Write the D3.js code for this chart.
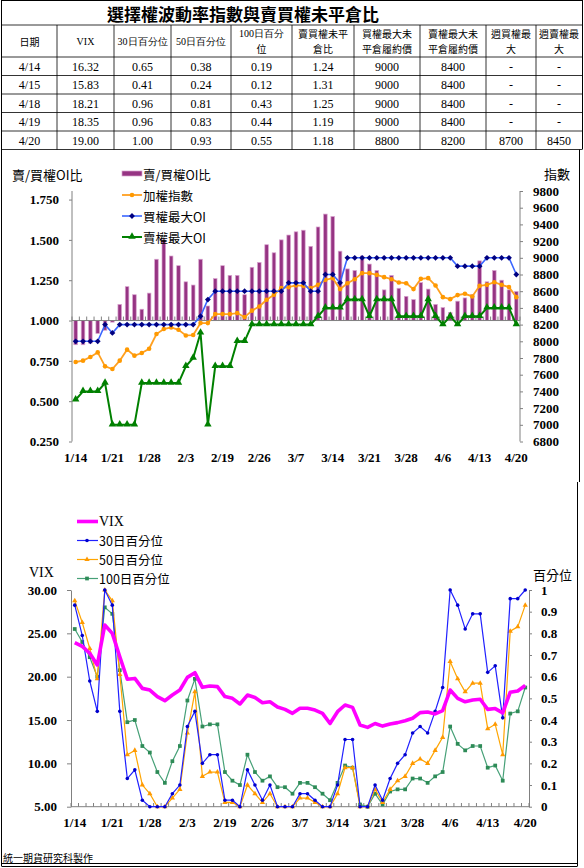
<!DOCTYPE html>
<html><head><meta charset="utf-8">
<script src="https://cdn.jsdelivr.net/npm/d3@7"></script>
<style>body{margin:0;background:#fff} svg{display:block}</style>
</head><body><svg id="c" width="584" height="868"></svg>
<script>
// ---------- DATA ----------
const dates = ["1/14","1/15","1/18","1/19","1/20","1/21","1/22","1/25","1/26","1/27","1/28","1/29","1/30","2/1","2/2","2/3","2/15","2/16","2/17","2/18","2/19","2/22","2/23","2/24","2/25","2/26","3/1","3/2","3/3","3/4","3/7","3/8","3/9","3/10","3/11","3/14","3/15","3/16","3/17","3/18","3/21","3/22","3/23","3/24","3/25","3/28","3/29","3/30","3/31","4/1","4/6","4/7","4/8","4/11","4/12","4/13","4/14","4/15","4/18","4/19","4/20"];
const putCallRatio = [0.85,0.85,0.86,0.92,0.94,0.99,1.10,1.21,1.16,1.07,1.17,1.38,1.50,1.40,1.34,1.24,1.22,1.38,1.09,1.26,1.34,1.28,1.28,1.16,1.33,1.36,1.47,1.42,1.50,1.53,1.55,1.56,1.46,1.58,1.66,1.645,1.43,1.32,1.31,1.40,1.35,1.31,1.19,1.28,1.20,1.15,1.13,1.235,1.195,1.10,1.08,1.05,1.12,1.14,1.16,1.37,1.24,1.31,1.25,1.19,1.18];
const taiex = [7752,7768,7812,7867,7700,7668,7768,7900,7828,7860,7911,8087,8147,8166,8138,8070,8075,8218,8218,8326,8326,8326,8338,8290,8367,8417,8497,8557,8637,8649,8670,8664,8637,8676,8736,8756,8625,8696,8744,8816,8816,8796,8768,8744,8704,8696,8625,8748,8756,8668,8529,8505,8553,8569,8537,8664,8676,8708,8676,8649,8529];
const callMaxOI = [8000,8000,8000,8000,8200,8100,8200,8200,8200,8200,8200,8200,8200,8200,8200,8200,8200,8300,8500,8600,8600,8600,8600,8600,8600,8600,8600,8600,8600,8700,8700,8700,8600,8600,8800,8800,8700,9000,9000,9000,9000,9000,9000,9000,9000,9000,9000,9000,9000,9000,9000,9000,8900,8900,8900,8900,9000,9000,9000,9000,8800];
const putMaxOI = [7300,7400,7400,7400,7500,7000,7000,7000,7000,7500,7500,7500,7500,7500,7500,7700,7800,8100,7000,7700,7700,7700,8000,8000,8200,8200,8200,8200,8200,8200,8200,8200,8200,8300,8400,8400,8400,8500,8500,8500,8300,8500,8500,8500,8300,8300,8300,8300,8500,8300,8200,8300,8200,8300,8300,8300,8400,8400,8400,8400,8200];
const vix = [23.92,23.5,22.7,21.35,25.96,25.0,22.3,19.7,19.8,18.65,18.46,17.7,17.23,17.88,18.46,19.92,20.46,18.77,18.92,18.85,17.7,17.5,16.85,17.88,17.6,17.0,17.1,16.5,16.23,15.77,16.35,16.35,16.15,15.77,14.6,15.96,16.73,16.46,14.42,14.15,14.6,14.3,14.54,14.7,14.92,15.2,15.85,15.92,15.7,16.08,18.46,17.5,17.1,17.3,17.4,16.23,16.32,15.83,18.21,18.35,19.00];
const pct30 = [0.93,0.79,0.58,0.44,1.0,0.93,0.44,0.13,0.17,0.03,0,0,0,0.06,0.10,0.37,0.44,0.20,0.24,0.24,0.03,0.03,0,0.17,0.10,0.03,0.10,0,0,0,0.06,0.06,0.03,0,0,0.10,0.31,0.31,0,0,0.10,0.03,0.13,0.20,0.24,0.34,0.37,0.34,0.44,0.55,1.0,0.93,0.82,0.89,0.89,0.62,0.65,0.41,0.96,0.96,1.00];
const pct50 = [0.95,0.85,0.73,0.59,1.0,0.95,0.61,0.24,0.26,0.10,0.06,0,0,0.04,0.08,0.34,0.53,0.14,0.16,0.16,0.02,0.02,0,0.10,0.06,0.02,0.06,0,0,0,0.04,0.04,0.02,0,0,0.06,0.18,0.18,0,0,0.08,0.02,0.08,0.12,0.14,0.20,0.22,0.20,0.26,0.32,0.67,0.59,0.53,0.57,0.57,0.36,0.38,0.24,0.81,0.83,0.93];
const pct100 = [0.82,0.76,0.69,0.60,0.92,0.89,0.63,0.39,0.40,0.28,0.25,0.16,0.11,0.21,0.28,0.49,0.59,0.37,0.38,0.38,0.16,0.12,0.10,0.24,0.16,0.12,0.14,0.09,0.09,0.06,0.11,0.11,0.09,0.06,0.03,0.11,0.19,0.18,0.01,0,0.06,0.01,0.07,0.08,0.08,0.13,0.13,0.11,0.14,0.16,0.37,0.29,0.26,0.28,0.28,0.18,0.19,0.12,0.43,0.44,0.55];

const ratioTicks = [0.25,0.5,0.75,1.0,1.25,1.5,1.75];
const indexTicks = [6800,7000,7200,7400,7600,7800,8000,8200,8400,8600,8800,9000,9200,9400,9600,9800];
const vixTicks = [5,10,15,20,25,30];
const pctTicks = [0,0.1,0.2,0.3,0.4,0.5,0.6,0.7,0.8,0.9,1];

const tableTitle = "選擇權波動率指數與賣買權未平倉比";
const tableHeaders = [["日期"],["VIX"],["30日百分位"],["50日百分位"],["100日百分","位"],["賣買權未平","倉比"],["買權最大未","平倉履約價"],["賣權最大未","平倉履約價"],["週買權最","大"],["週賣權最","大"]];
const tDates = ["4/14","4/15","4/18","4/19","4/20"];
const tVIX = ["16.32","15.83","18.21","18.35","19.00"];
const t30 = ["0.65","0.41","0.96","0.96","1.00"];
const t50 = ["0.38","0.24","0.81","0.83","0.93"];
const t100 = ["0.19","0.12","0.43","0.44","0.55"];
const tPC = ["1.24","1.31","1.25","1.19","1.18"];
const tCallMax = ["9000","9000","9000","9000","8800"];
const tPutMax = ["8400","8400","8400","8400","8200"];
const tWCall = ["-","-","-","-","8700"];
const tWPut = ["-","-","-","-","8450"];

// ---------- SETUP ----------
const svg = d3.select("#c");
const CJK = "'Noto Sans CJK TC','Noto Sans CJK SC',sans-serif";
const SERIF = "'Liberation Serif','DejaVu Serif',serif";

// ---------- TABLE ----------
const colX = [2,57,114,171,231,292,354,420,486,536,582];
const rowY = [0,25,57,75.5,94,112.5,131,149.5];
const tbl = svg.append("g");
tbl.append("text").attr("x",243).attr("y",13.5).attr("text-anchor","middle").attr("dominant-baseline","central")
  .style("font-family",CJK).style("font-weight","bold").style("font-size","17px").text(tableTitle);
rowY.slice(1).forEach(y=>tbl.append("line").attr("x1",colX[0]).attr("x2",colX[10]).attr("y1",y).attr("y2",y).attr("stroke","#000").attr("stroke-width",0.8));
colX.slice(1,10).forEach(x=>tbl.append("line").attr("x1",x).attr("x2",x).attr("y1",rowY[1]).attr("y2",rowY[7]).attr("stroke","#000").attr("stroke-width",0.8));
tableHeaders.forEach((h,c)=>{
  const cx=(colX[c]+colX[c+1])/2;
  h.forEach((line,k)=>{
    const y = h.length===1 ? (rowY[1]+rowY[2])/2 : (k===0? rowY[1]+8.5 : rowY[1]+23.5);
    tbl.append("text").attr("x",cx).attr("y",y).attr("text-anchor","middle").attr("dominant-baseline","central")
      .style("font-family", /^[0-9A-Z]/.test(line) ? SERIF : CJK).style("font-size","10px").text(line);
  });
});
const tCols = [tDates,tVIX,t30,t50,t100,tPC,tCallMax,tPutMax,tWCall,tWPut];
tCols.forEach((col,c)=>{
  const cx=(colX[c]+colX[c+1])/2;
  col.forEach((v,r)=>{
    tbl.append("text").attr("x",cx).attr("y",(rowY[2+r]+rowY[3+r])/2+0.5).attr("text-anchor","middle").attr("dominant-baseline","central")
      .style("font-family",SERIF).style("font-size","12px").text(v);
  });
});

// frame
const fr = svg.append("g").attr("stroke","#000").attr("stroke-width",1).attr("fill","none");
fr.append("line").attr("x1",1.5).attr("x2",1.5).attr("y1",0).attr("y2",866);
fr.append("line").attr("x1",1.5).attr("x2",582.5).attr("y1",0.5).attr("y2",0.5);
fr.append("line").attr("x1",582.5).attr("x2",582.5).attr("y1",0).attr("y2",rowY[7]);
fr.append("line").attr("x1",579.5).attr("x2",579.5).attr("y1",rowY[7]).attr("y2",482);
fr.append("line").attr("x1",577.5).attr("x2",577.5).attr("y1",482).attr("y2",866);
fr.append("line").attr("x1",1.5).attr("x2",577.5).attr("y1",863.5).attr("y2",863.5);
fr.append("line").attr("x1",1.5).attr("x2",577.5).attr("y1",866.5).attr("y2",866.5);

// ---------- TOP CHART ----------
const gTop = svg.append("g");
const xT = d3.scaleBand().domain(d3.range(dates.length)).range([72,520]);
const cxT = i => xT(i)+xT.bandwidth()/2;
const yL = d3.scaleLinear().domain([0.25,1.8]).range([441.5,191.5]);
const yR = d3.scaleLinear().domain([6800,9800]).range([441.5,191]);

gTop.selectAll("rect.bar").data(putCallRatio).join("rect").attr("class","bar")
  .attr("x",(d,i)=>cxT(i)-1.8).attr("width",3.6)
  .attr("y",d=>Math.min(yL(d),yL(1))).attr("height",d=>Math.abs(yL(d)-yL(1)))
  .attr("fill","#963483").attr("stroke","#d9a3cf").attr("stroke-width",0.7);

gTop.append("line").attr("x1",72).attr("x2",520).attr("y1",yL(1)).attr("y2",yL(1)).attr("stroke","#808080").attr("stroke-width",1);
d3.range(dates.length+1).forEach(i=>{
  const x = 72 + i*xT.step();
  gTop.append("line").attr("x1",x).attr("x2",x).attr("y1",yL(1)).attr("y2",yL(1)-4).attr("stroke","#808080").attr("stroke-width",1);
});

const axL = gTop.append("g").attr("transform","translate(72,0)")
  .call(d3.axisLeft(yL).tickValues(ratioTicks).tickFormat(d3.format(".3f")).tickSize(3).tickSizeOuter(0).tickPadding(10));
const axR = gTop.append("g").attr("transform","translate(520,0)")
  .call(d3.axisRight(yR).tickValues(indexTicks).tickFormat(d3.format("d")).tickSize(3).tickSizeOuter(0).tickPadding(10));
[axL,axR].forEach(a=>{
  a.select(".domain").attr("stroke","#808080").attr("d","M0,191V441.5");
  a.selectAll(".tick line").attr("stroke","#808080");
  a.selectAll("text").style("font-family",SERIF).style("font-weight","bold").style("font-size","13px").attr("fill","#000");
});

dates.forEach((d,i)=>{ if(i%5===0)
  gTop.append("text").attr("x",cxT(i)).attr("y",457).attr("text-anchor","middle").attr("dominant-baseline","central")
   .style("font-family",SERIF).style("font-weight","bold").style("font-size","13px").text(d);
});

const lineR = d3.line().x((d,i)=>cxT(i)).y(d=>yR(d));
gTop.append("path").datum(taiex).attr("d",lineR).attr("fill","none").attr("stroke","#ffa020").attr("stroke-width",1.8);
gTop.selectAll("circle.tx").data(taiex).join("circle").attr("class","tx").attr("cx",(d,i)=>cxT(i)).attr("cy",d=>yR(d)).attr("r",2.3).attr("fill","#ff9900");
gTop.append("path").datum(callMaxOI).attr("d",lineR).attr("fill","none").attr("stroke","#3a66ff").attr("stroke-width",1.6);
const diamond = d3.symbol(d3.symbolSquare,17);
gTop.selectAll("path.cm").data(callMaxOI).join("path").attr("class","cm").attr("d",diamond)
  .attr("transform",(d,i)=>`translate(${cxT(i)},${yR(d)}) rotate(45)`).attr("fill","#000080");
gTop.append("path").datum(putMaxOI).attr("d",lineR).attr("fill","none").attr("stroke","#008000").attr("stroke-width",2);
const tri = d3.symbol(d3.symbolTriangle,24);
gTop.selectAll("path.pm").data(putMaxOI).join("path").attr("class","pm").attr("d",tri)
  .attr("transform",(d,i)=>`translate(${cxT(i)},${yR(d)-0.5})`).attr("fill","#008000");

gTop.append("text").attr("x",12).attr("y",174).attr("dominant-baseline","central").style("font-family",CJK).style("font-size","13px").text("賣/買權OI比");
gTop.append("text").attr("x",544).attr("y",173).attr("dominant-baseline","central").style("font-family",CJK).style("font-size","13px").text("指數");

const lg = gTop.append("g");
lg.append("rect").attr("x",122).attr("y",171).attr("width",20).attr("height",5).attr("fill","#963483").attr("stroke","#d9a3cf").attr("stroke-width",0.7);
lg.append("text").attr("x",143).attr("y",174).attr("dominant-baseline","central").style("font-family",CJK).style("font-size","12.5px").text("賣/買權OI比");
lg.append("line").attr("x1",122).attr("x2",142).attr("y1",195).attr("y2",195).attr("stroke","#ffa020").attr("stroke-width",1.8);
lg.append("circle").attr("cx",132).attr("cy",195).attr("r",2.3).attr("fill","#ff9900");
lg.append("text").attr("x",143).attr("y",195).attr("dominant-baseline","central").style("font-family",CJK).style("font-size","12.5px").text("加權指數");
lg.append("line").attr("x1",122).attr("x2",142).attr("y1",216).attr("y2",216).attr("stroke","#3a66ff").attr("stroke-width",1.6);
lg.append("path").attr("d",diamond).attr("transform","translate(132,216) rotate(45)").attr("fill","#000080");
lg.append("text").attr("x",143).attr("y",216).attr("dominant-baseline","central").style("font-family",CJK).style("font-size","12.5px").text("買權最大OI");
lg.append("line").attr("x1",122).attr("x2",142).attr("y1",237).attr("y2",237).attr("stroke","#008000").attr("stroke-width",2);
lg.append("path").attr("d",tri).attr("transform","translate(132,236.5)").attr("fill","#008000");
lg.append("text").attr("x",143).attr("y",237).attr("dominant-baseline","central").style("font-family",CJK).style("font-size","12.5px").text("賣權最大OI");

// ---------- BOTTOM CHART ----------
const gBot = svg.append("g");
const xB = d3.scaleBand().domain(d3.range(dates.length)).range([71,529]);
const cxB = i => xB(i)+xB.bandwidth()/2;
const yV = d3.scaleLinear().domain([5,30]).range([806.7,590]);
const yP = d3.scaleLinear().domain([0,1]).range([806.7,590]);

const bAxL = gBot.append("g").attr("transform","translate(71,0)")
  .call(d3.axisLeft(yV).tickValues(vixTicks).tickFormat(d3.format(".2f")).tickSize(4).tickSizeOuter(0).tickPadding(10));
const bAxR = gBot.append("g").attr("transform","translate(529,0)")
  .call(d3.axisRight(yP).tickValues(pctTicks).tickFormat(d=>d===0?"0":d===1?"1":d3.format(".1f")(d)).tickSize(3).tickSizeOuter(0).tickPadding(9));
[bAxL,bAxR].forEach(a=>{
  a.select(".domain").attr("stroke","#808080");
  a.selectAll(".tick line").attr("stroke","#808080");
  a.selectAll("text").style("font-family",SERIF).style("font-weight","bold").style("font-size","13px").attr("fill","#000");
});
gBot.append("line").attr("x1",71).attr("x2",529).attr("y1",806.7).attr("y2",806.7).attr("stroke","#808080");
d3.range(dates.length+1).forEach(i=>{
  const x = 71 + i*xB.step();
  gBot.append("line").attr("x1",x).attr("x2",x).attr("y1",806.7).attr("y2",803).attr("stroke","#808080");
});
dates.forEach((d,i)=>{ if(i%5===0)
  gBot.append("text").attr("x",cxB(i)).attr("y",822).attr("text-anchor","middle").attr("dominant-baseline","central")
   .style("font-family",SERIF).style("font-weight","bold").style("font-size","13px").text(d);
});

const lineP = d3.line().x((d,i)=>cxB(i)).y(d=>yP(d));
gBot.append("path").datum(pct100).attr("d",lineP).attr("fill","none").attr("stroke","#46a077").attr("stroke-width",1.2);
const sq = d3.symbol(d3.symbolSquare,14);
gBot.selectAll("path.p100").data(pct100).join("path").attr("class","p100").attr("d",sq)
  .attr("transform",(d,i)=>`translate(${cxB(i)},${yP(d)})`).attr("fill","#2e8b57");
gBot.append("path").datum(pct50).attr("d",lineP).attr("fill","none").attr("stroke","#ffa500").attr("stroke-width",1.2);
const tri2 = d3.symbol(d3.symbolTriangle,12);
gBot.selectAll("path.p50").data(pct50).join("path").attr("class","p50").attr("d",tri2)
  .attr("transform",(d,i)=>`translate(${cxB(i)},${yP(d)})`).attr("fill","#ff9900");
gBot.append("path").datum(pct30).attr("d",lineP).attr("fill","none").attr("stroke","#2020ff").attr("stroke-width",1.2);
gBot.selectAll("circle.p30").data(pct30).join("circle").attr("class","p30").attr("cx",(d,i)=>cxB(i)).attr("cy",d=>yP(d)).attr("r",1.8).attr("fill","#0000cc");
const lineV = d3.line().x((d,i)=>cxB(i)).y(d=>yV(d));
gBot.append("path").datum(vix).attr("d",lineV).attr("fill","none").attr("stroke","#ff00ff").attr("stroke-width",3.6).attr("stroke-linejoin","round");

gBot.append("text").attr("x",29).attr("y",572).attr("dominant-baseline","central").style("font-family",SERIF).style("font-size","14px").text("VIX");
gBot.append("text").attr("x",533).attr("y",574).attr("dominant-baseline","central").style("font-family",CJK).style("font-size","13px").text("百分位");

const bl = gBot.append("g");
bl.append("line").attr("x1",77).attr("x2",98).attr("y1",521.5).attr("y2",521.5).attr("stroke","#ff00ff").attr("stroke-width",3.6);
bl.append("text").attr("x",99).attr("y",521.5).attr("dominant-baseline","central").style("font-family",SERIF).style("font-size","14px").text("VIX");
bl.append("line").attr("x1",77).attr("x2",98).attr("y1",540.5).attr("y2",540.5).attr("stroke","#2020ff").attr("stroke-width",1.2);
bl.append("circle").attr("cx",87).attr("cy",540.5).attr("r",1.8).attr("fill","#0000cc");
bl.append("text").attr("x",99).attr("y",540.5).attr("dominant-baseline","central").style("font-family",CJK).style("font-size","12.5px").text("30日百分位");
bl.append("line").attr("x1",77).attr("x2",98).attr("y1",559.5).attr("y2",559.5).attr("stroke","#ffa500").attr("stroke-width",1.2);
bl.append("path").attr("d",tri2).attr("transform","translate(87,559.5)").attr("fill","#ff9900");
bl.append("text").attr("x",99).attr("y",559.5).attr("dominant-baseline","central").style("font-family",CJK).style("font-size","12.5px").text("50日百分位");
bl.append("line").attr("x1",77).attr("x2",98).attr("y1",578.5).attr("y2",578.5).attr("stroke","#46a077").attr("stroke-width",1.2);
bl.append("path").attr("d",sq).attr("transform","translate(87,578.5)").attr("fill","#2e8b57");
bl.append("text").attr("x",99).attr("y",578.5).attr("dominant-baseline","central").style("font-family",CJK).style("font-size","12.5px").text("100日百分位");

svg.append("text").attr("x",3).attr("y",857).attr("dominant-baseline","central").style("font-family",CJK).style("font-size","10px").text("統一期貨研究科製作");
</script></body></html>
